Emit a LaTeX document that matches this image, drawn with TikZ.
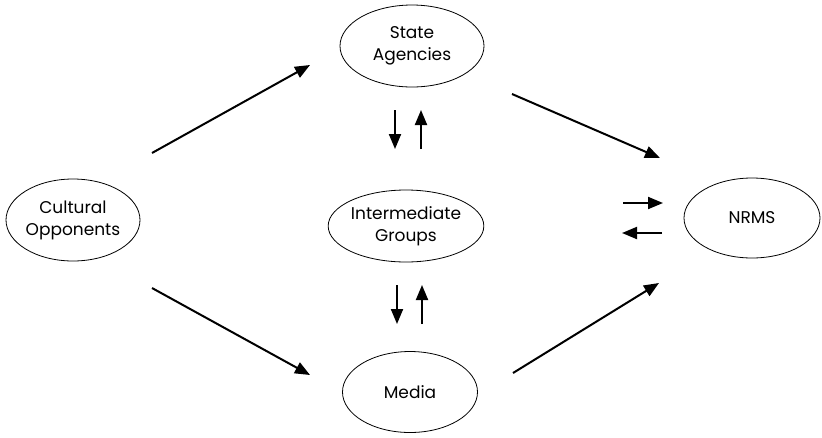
\documentclass[tikz,border=0pt]{standalone}
\usepackage{fontspec}
\setmainfont{Poppins}
\usetikzlibrary{shapes.geometric,arrows.meta}
\tikzset{
  actor/.style={draw,ellipse,line width=0.8pt,inner sep=0pt,align=center,font=\fontsize{17}{22}\selectfont},
  flow/.style={line width=2pt,-{Triangle[length=15pt,width=12pt]}}
}
\begin{document}
\begin{tikzpicture}[x=1pt,y=-1pt]
                \useasboundingbox (0,0) rectangle (822,437);
                \node[actor,minimum width=144,minimum height=82] (sa) at (412,46) {State\\Agencies};
                \node[actor,minimum width=126,minimum height=72] (ig) at (406,226) {Intermediate\\Groups};
                \node[actor,minimum width=135,minimum height=81] (med) at (410,392) {Media};
                \node[actor,minimum width=134,minimum height=82] (co) at (73,220) {Cultural\\Opponents};
                \node[actor,minimum width=136,minimum height=80] (nrms) at (752,218) {NRMS};
                \coordinate (co-up) at (152,153);
                \coordinate (sa-in) at (310,65);
                \coordinate (co-dn) at (152,288);
                \coordinate (med-in) at (310,375);
                \coordinate (sa-out) at (512,94);
                \coordinate (nrms-top) at (660,158);
                \coordinate (med-out) at (513,373);
                \coordinate (nrms-bot) at (659,283);
                \coordinate (sa-ig-a) at (395,110);
                \coordinate (sa-ig-b) at (395,149);
                \coordinate (ig-sa-a) at (421,149);
                \coordinate (ig-sa-b) at (421,110);
                \coordinate (ig-med-a) at (397,285);
                \coordinate (ig-med-b) at (397,324);
                \coordinate (med-ig-a) at (422,324);
                \coordinate (med-ig-b) at (422,285);
                \coordinate (to-nrms-a) at (623,203);
                \coordinate (to-nrms-b) at (663,203);
                \coordinate (from-nrms-a) at (662,233);
                \coordinate (from-nrms-b) at (622,233);
                \draw[flow] (co-up) -- (sa-in);
                \draw[flow] (co-dn) -- (med-in);
                \draw[flow] (sa-out) -- (nrms-top);
                \draw[flow] (med-out) -- (nrms-bot);
                \draw[flow] (sa-ig-a) -- (sa-ig-b);
                \draw[flow] (ig-sa-a) -- (ig-sa-b);
                \draw[flow] (ig-med-a) -- (ig-med-b);
                \draw[flow] (med-ig-a) -- (med-ig-b);
                \draw[flow] (to-nrms-a) -- (to-nrms-b);
                \draw[flow] (from-nrms-a) -- (from-nrms-b);
            \end{tikzpicture}
\end{document}
